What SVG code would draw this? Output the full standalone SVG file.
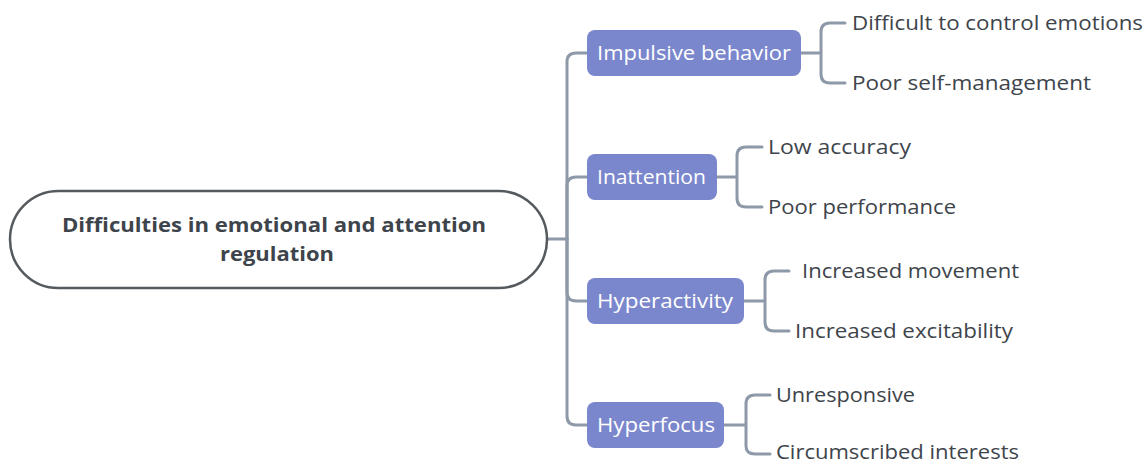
<svg xmlns="http://www.w3.org/2000/svg" width="1146" height="464" viewBox="0 0 1146 464">
<style>
.c{fill:none;stroke:#8d99a8;stroke-width:3;stroke-linecap:round;stroke-linejoin:round}
.n{fill:#7b87cc}
.nt{font-family:"Open Sans","Liberation Sans",sans-serif;font-size:20px;fill:#ffffff}
.t{font-family:"Open Sans","Liberation Sans",sans-serif;font-size:20px;fill:#3e444b}
.r{fill:#ffffff;stroke:#555a5f;stroke-width:2.5}
.rt{font-family:"Open Sans","Liberation Sans",sans-serif;font-size:20px;font-weight:bold;fill:#3e444b}
</style>
<g id="connectors">
<path class="c" d="M547,239 H567"/>
<path class="c" d="M567,239 V62 Q567,53 576,53 H587"/>
<path class="c" d="M567,239 V186 Q567,177 576,177 H587"/>
<path class="c" d="M567,239 V292 Q567,301 576,301 H587"/>
<path class="c" d="M567,239 V416 Q567,425 576,425 H587"/>
<path class="c" d="M801,53 H821 M821,53 V32 Q821,23 830,23 H845 M821,53 V74 Q821,83 830,83 H845"/>
<path class="c" d="M717,177 H737 M737,177 V156 Q737,147 746,147 H762 M737,177 V198 Q737,207 746,207 H762"/>
<path class="c" d="M744,301 H765 M765,301 V280 Q765,271 774,271 H789 M765,301 V322 Q765,331 774,331 H789"/>
<path class="c" d="M724,425 H746 M746,425 V404 Q746,395 755,395 H770 M746,425 V446 Q746,454 755,454 H770"/>
</g>
<g id="root">
<rect class="r" x="10" y="191" width="537" height="97" rx="48.5"/>
<text class="rt" x="274" y="232" text-anchor="middle" textLength="424" lengthAdjust="spacingAndGlyphs">Difficulties in emotional and attention</text>
<text class="rt" x="277" y="261" text-anchor="middle" textLength="114" lengthAdjust="spacingAndGlyphs">regulation</text>
</g>
<g id="impulsive">
<rect class="n" x="587" y="30" width="214" height="46" rx="8"/>
<text class="nt" x="597" y="60" textLength="194" lengthAdjust="spacingAndGlyphs">Impulsive behavior</text>
</g>
<g id="inattention">
<rect class="n" x="587" y="154" width="130" height="46" rx="8"/>
<text class="nt" x="597" y="184" textLength="109" lengthAdjust="spacingAndGlyphs">Inattention</text>
</g>
<g id="hyperactivity">
<rect class="n" x="587" y="278" width="157" height="46" rx="8"/>
<text class="nt" x="597" y="308" textLength="136" lengthAdjust="spacingAndGlyphs">Hyperactivity</text>
</g>
<g id="hyperfocus">
<rect class="n" x="587" y="402" width="137" height="46" rx="8"/>
<text class="nt" x="597" y="432" textLength="118" lengthAdjust="spacingAndGlyphs">Hyperfocus</text>
</g>
<g id="leaf-difficult"><text class="t" x="852" y="30" textLength="291" lengthAdjust="spacingAndGlyphs">Difficult to control emotions</text></g>
<g id="leaf-poor-self"><text class="t" x="852" y="90" textLength="239" lengthAdjust="spacingAndGlyphs">Poor self-management</text></g>
<g id="leaf-low-acc"><text class="t" x="768" y="154" textLength="143" lengthAdjust="spacingAndGlyphs">Low accuracy</text></g>
<g id="leaf-poor-perf"><text class="t" x="768" y="214" textLength="188" lengthAdjust="spacingAndGlyphs">Poor performance</text></g>
<g id="leaf-movement"><text class="t" x="802" y="278" textLength="217" lengthAdjust="spacingAndGlyphs">Increased movement</text></g>
<g id="leaf-excit"><text class="t" x="795" y="338" textLength="218" lengthAdjust="spacingAndGlyphs">Increased excitability</text></g>
<g id="leaf-unresp"><text class="t" x="776" y="402" textLength="139" lengthAdjust="spacingAndGlyphs">Unresponsive</text></g>
<g id="leaf-circ"><text class="t" x="776" y="459" textLength="243" lengthAdjust="spacingAndGlyphs">Circumscribed interests</text></g>
</svg>
